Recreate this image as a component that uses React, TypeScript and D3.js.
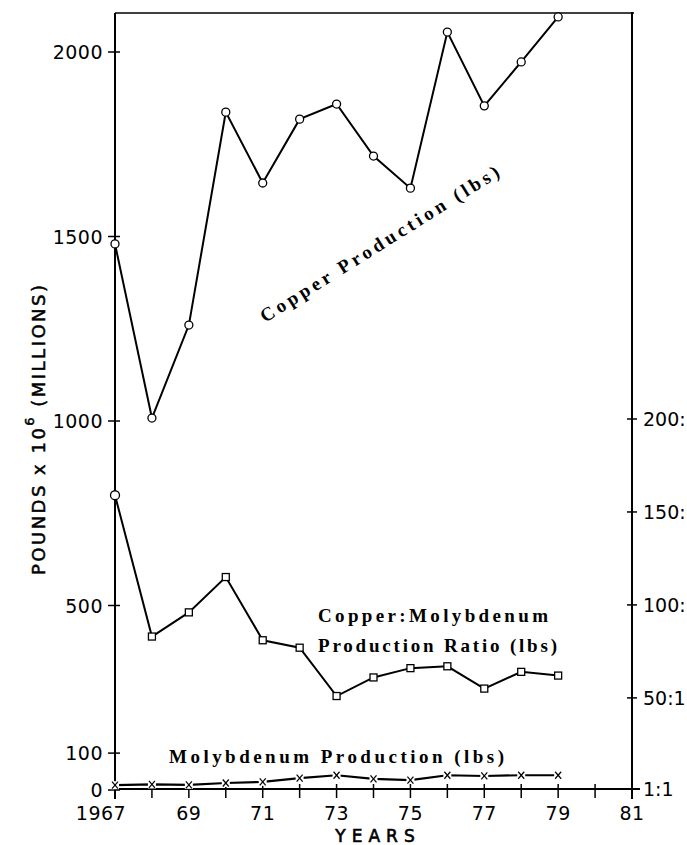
import React from "react";
import * as d3 from "d3";

const years = [1967, 1968, 1969, 1970, 1971, 1972, 1973, 1974, 1975, 1976, 1977, 1978, 1979];
const copperProduction = [1480, 1008, 1260, 1837, 1645, 1818, 1859, 1718, 1631, 2054, 1854, 1973, 2095];
const cuMoRatio = [159, 83, 96, 115, 81, 77, 51, 61, 66, 67, 55, 64, 62];
const molybdenumProduction = [13, 15, 14, 19, 22, 32, 40, 30, 27, 40, 38, 40, 40];

const yearTicks = [1967, 1968, 1969, 1970, 1971, 1972, 1973, 1974, 1975, 1976, 1977, 1978, 1979, 1980, 1981];
const yearLabelValues = [1967, 1969, 1971, 1973, 1975, 1977, 1979, 1981];
const yearLabels = ["1967", "69", "71", "73", "75", "77", "79", "81"];
const leftTicks = [0, 100, 500, 1000, 1500, 2000];
const rightTicks = [1, 50, 100, 150, 200];
const rightTickLabels = ["1:1", "50:1", "100:1", "150:1", "200:1"];

const W = 687;
const H = 845;

export default function App() {
  const x = d3.scaleLinear().domain([1967, 1981]).range([115, 632]);
  const yL = d3.scaleLinear().domain([0, 2000]).range([790, 52]);
  const yR = d3.scaleLinear().domain([1, 200]).range([789, 419]);

  const lineL = d3
    .line<number>()
    .x((_, i) => x(years[i]))
    .y((d) => yL(d));
  const lineR = d3
    .line<number>()
    .x((_, i) => x(years[i]))
    .y((d) => yR(d));

  const axisFont = "'DejaVu Sans', sans-serif";
  const serif = "'Liberation Serif', 'Times New Roman', serif";
  const baseY = yL(0) - 1;

  return (
    <svg
      width={W}
      height={H}
      viewBox={`0 0 ${W} ${H}`}
      style={{ position: "absolute", left: 0, top: 0, background: "#fff" }}
    >
      <rect x={0} y={0} width={W} height={H} fill="#fff" />
      {/* frame */}
      <line x1={115} x2={634} y1={13} y2={13} stroke="#000" strokeWidth={1.5} />
      <line x1={115} x2={115} y1={13} y2={799} stroke="#000" strokeWidth={2} />
      <line x1={632} x2={632} y1={12} y2={799} stroke="#000" strokeWidth={2} />
      <line x1={115} x2={640} y1={baseY} y2={baseY} stroke="#000" strokeWidth={2} />

      {/* x ticks */}
      {yearTicks.map((t) => (
        <line key={t} x1={x(t)} x2={x(t)} y1={784} y2={798} stroke="#000" strokeWidth={1.5} />
      ))}
      {yearLabelValues.map((t, i) => (
        <text
          key={t}
          x={x(t) + (i === 0 ? -14 : 0)}
          y={820}
          textAnchor="middle"
          fontFamily={axisFont}
          fontSize={19}
          letterSpacing={0.5}
          fill="#000"
        >
          {yearLabels[i]}
        </text>
      ))}
      <text
        x={378}
        y={842}
        textAnchor="middle"
        fontFamily={axisFont}
        fontSize={17}
        fill="#000"
        stroke="#000"
        strokeWidth={0.6}
        letterSpacing={6}
      >
        YEARS
      </text>

      {/* left ticks */}
      {leftTicks.map((t) => (
        <g key={t}>
          <line x1={108} x2={120} y1={yL(t)} y2={yL(t)} stroke="#000" strokeWidth={1.5} />
          <text
            x={103}
            y={yL(t) + 7}
            textAnchor="end"
            fontFamily={axisFont}
            fontSize={19}
            letterSpacing={0.5}
            fill="#000"
          >
            {t}
          </text>
        </g>
      ))}

      {/* right ticks */}
      {rightTicks.map((t, i) => (
        <g key={t}>
          <line x1={627} x2={637} y1={yR(t)} y2={yR(t)} stroke="#000" strokeWidth={1.5} />
          <text
            x={643}
            y={yR(t) + 7}
            textAnchor="start"
            fontFamily={axisFont}
            fontSize={19}
            fill="#000"
          >
            {rightTickLabels[i]}
          </text>
        </g>
      ))}

      {/* y axis title */}
      <text
        transform="translate(45,575) rotate(-90)"
        fontFamily={axisFont}
        fontSize={18}
        fill="#000"
        stroke="#000"
        strokeWidth={0.5}
        textLength={290}
        lengthAdjust="spacing"
      >
        <tspan>POUNDS x 10</tspan>
        <tspan fontSize={13} dy={-11}>6</tspan>
        <tspan dy={11}> (MILLIONS)</tspan>
      </text>

      {/* copper production */}
      <path d={lineL(copperProduction) || ""} fill="none" stroke="#000" strokeWidth={2} />
      {copperProduction.map((v, i) => (
        <circle key={i} cx={x(years[i])} cy={yL(v)} r={4} fill="#fff" stroke="#000" strokeWidth={1.3} />
      ))}

      {/* ratio */}
      <path d={lineR(cuMoRatio) || ""} fill="none" stroke="#000" strokeWidth={2} />
      {cuMoRatio.map((v, i) =>
        i === 0 ? (
          <circle key={i} cx={x(years[i])} cy={yR(v)} r={4.5} fill="#fff" stroke="#000" strokeWidth={1.3} />
        ) : (
          <rect
            key={i}
            x={x(years[i]) - 3.5}
            y={yR(v) - 3.5}
            width={7}
            height={7}
            fill="#fff"
            stroke="#000"
            strokeWidth={1.3}
          />
        )
      )}

      {/* molybdenum */}
      <path d={lineL(molybdenumProduction) || ""} fill="none" stroke="#000" strokeWidth={2.2} />
      {molybdenumProduction.map((v, i) => {
        const cx = x(years[i]);
        const cy = yL(v);
        return (
          <g key={i}>
            <rect x={cx - 4} y={cy - 4} width={8} height={8} fill="#fff" />
            <line x1={cx - 3} x2={cx + 3} y1={cy - 3.5} y2={cy + 3.5} stroke="#000" strokeWidth={1.2} />
            <line x1={cx + 3} x2={cx - 3} y1={cy - 3.5} y2={cy + 3.5} stroke="#000" strokeWidth={1.2} />
          </g>
        );
      })}

      {/* annotations */}
      <text
        transform="translate(265,323) rotate(-32)"
        fontFamily={serif}
        fontWeight="bold"
        fontSize={19}
        fill="#000"
        textLength={278}
        lengthAdjust="spacing"
      >
        Copper Production (lbs)
      </text>
      <text
        x={318}
        y={622}
        fontFamily={serif}
        fontWeight="bold"
        fontSize={19}
        fill="#000"
        textLength={230}
        lengthAdjust="spacing"
      >
        Copper:Molybdenum
      </text>
      <text
        x={318}
        y={652}
        fontFamily={serif}
        fontWeight="bold"
        fontSize={19}
        fill="#000"
        textLength={239}
        lengthAdjust="spacing"
      >
        Production Ratio (lbs)
      </text>
      <text
        x={169}
        y={763}
        fontFamily={serif}
        fontWeight="bold"
        fontSize={19}
        fill="#000"
        textLength={335}
        lengthAdjust="spacing"
      >
        Molybdenum Production (lbs)
      </text>
    </svg>
  );
}
